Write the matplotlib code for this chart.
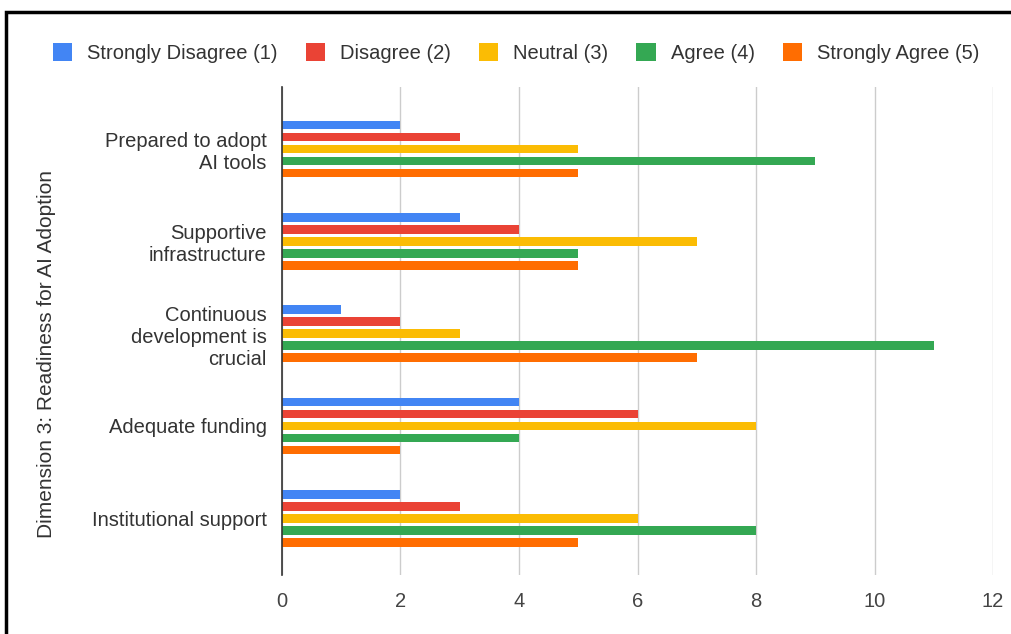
import matplotlib
matplotlib.use("Agg")
import matplotlib.pyplot as plt
import numpy as np
from matplotlib.patches import Rectangle, Patch

plt.rcParams['font.family'] = ['Liberation Sans', 'DejaVu Sans']

categories = [
    "Prepared to adopt\nAI tools",
    "Supportive\ninfrastructure",
    "Continuous\ndevelopment is\ncrucial",
    "Adequate funding",
    "Institutional support",
]
series_names = [
    "Strongly Disagree (1)",
    "Disagree (2)",
    "Neutral (3)",
    "Agree (4)",
    "Strongly Agree (5)",
]
strongly_disagree = [2, 3, 1, 4, 2]
disagree = [3, 4, 2, 6, 3]
neutral = [5, 7, 3, 8, 6]
agree = [9, 5, 11, 4, 8]
strongly_agree = [5, 5, 7, 2, 5]
x_ticks = [0, 2, 4, 6, 8, 10, 12]

series = [strongly_disagree, disagree, neutral, agree, strongly_agree]
colors = ["#4285F4", "#EA4335", "#FBBC04", "#34A853", "#FF6D01"]
FS = 14.5

fig = plt.figure(figsize=(10.12, 6.34), dpi=100)
ax = fig.add_axes([282 / 1012, 1 - 575 / 634, (993 - 282) / 1012, (575 - 87) / 634])

y = np.arange(len(categories))
step = 0.13
bar_h = 0.093
for i, (vals, col) in enumerate(zip(series, colors)):
    ax.barh(y + (i - 2) * step, vals, height=bar_h, color=col, zorder=3)

ax.set_ylim(4.615, -0.672)
ax.set_xlim(0, 12)
ax.set_xticks(x_ticks)
ax.set_xticklabels([str(t) for t in x_ticks], fontsize=FS, color="#444444")
ax.set_yticks(y)
ax.set_yticklabels(categories, fontsize=FS, color="#333333", linespacing=1.2)
ax.tick_params(axis='x', length=0, pad=12)
ax.tick_params(axis='y', length=0, pad=11)
ax.grid(axis='x', color="#cccccc", linewidth=1, zorder=0)
for s in ["top", "right", "bottom"]:
    ax.spines[s].set_visible(False)
ax.spines["left"].set_color("#333333")
ax.spines["left"].set_linewidth(1.2)
ax.spines["left"].set_zorder(4)

fig.text(47 / 1012, 1 - 354 / 634, "Dimension 3: Readiness for AI Adoption",
         rotation=90, va="center", ha="center", fontsize=15, color="#333333")

handles = [Patch(facecolor=c, edgecolor="none") for c in colors]
fig.legend(handles, series_names, loc="center", bbox_to_anchor=(516 / 1012, 1 - 53 / 634),
           ncol=5, frameon=False, fontsize=FS, handlelength=0.95, handleheight=0.95,
           handletextpad=0.75, columnspacing=1.4, labelcolor="#333333",
           borderpad=0, borderaxespad=0)

# outer frame
fig.add_artist(Rectangle((6 / 1012, -0.05), 1.1, 1 - 12 / 634 + 0.05, transform=fig.transFigure,
                         fill=False, edgecolor="black", linewidth=2.5))

fig.savefig("out.png", dpi=100)
